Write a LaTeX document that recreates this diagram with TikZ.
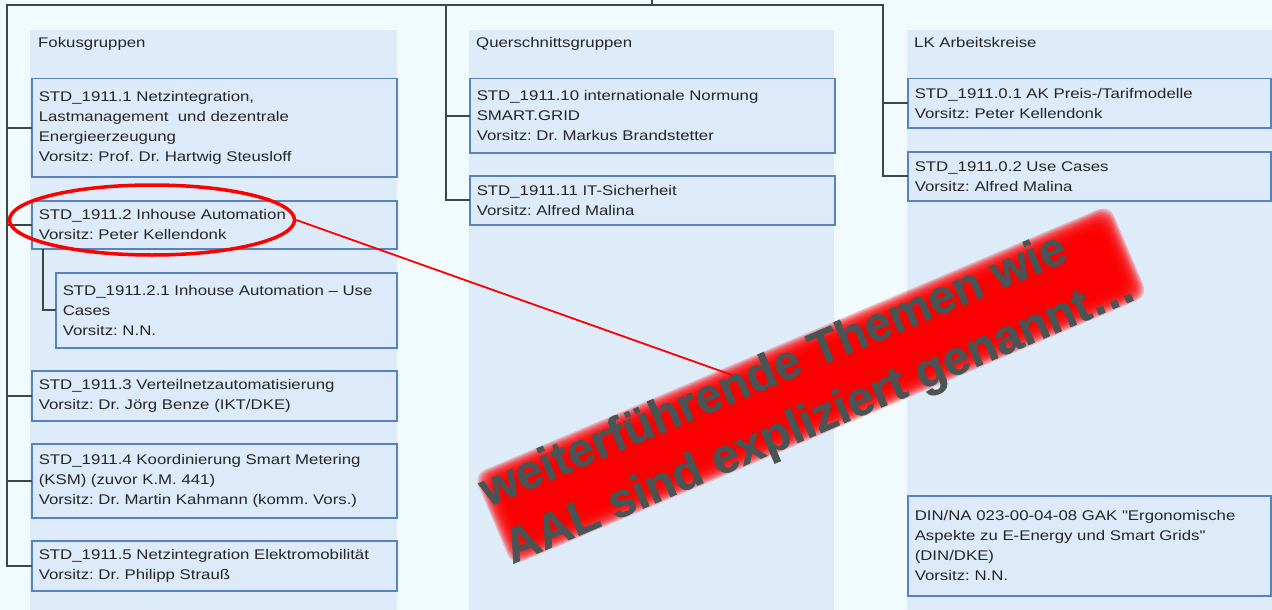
\documentclass[tikz,border=0pt]{standalone}
\usepackage{fontspec}
\setmainfont{Liberation Sans}
\newfontfamily\boxfont[FakeStretch=1.2]{Liberation Sans}
\newfontfamily\bannerfont[FakeBold=1.2]{Liberation Sans Bold}
\usetikzlibrary{shapes.geometric}
\frenchspacing

\definecolor{pagebg}{HTML}{F1FAFD}
\definecolor{colbg}{HTML}{DEEBF9}
\definecolor{boxbg}{HTML}{DCEAFA}
\definecolor{boxline}{HTML}{5783C0}
\definecolor{treeline}{HTML}{3E4646}
\definecolor{txt}{HTML}{262626}
\definecolor{bannertxt}{HTML}{4A5454}
\definecolor{hired}{HTML}{FF0000}

\tikzset{
  groupbox/.style={rectangle, draw=boxline, line width=1.5pt, fill=boxbg,
    inner xsep=7pt, inner ysep=0pt, align=left, anchor=north west,
    font=\boxfont\fontsize{14}{20}\selectfont, text=txt},
  heading/.style={inner sep=0pt, anchor=base west,
    font=\boxfont\fontsize{14}{20}\selectfont, text=txt},
  tree/.style={draw=treeline, line width=1.6pt, line cap=rect},
  bannertext/.style={inner sep=0pt, anchor=base west, transform shape,
    font=\bannerfont\fontsize{48}{58}\selectfont, text=bannertxt},
}

\begin{document}
\begin{tikzpicture}[x=1pt,y=-1pt]
  % page and the three column panels
  \fill[pagebg] (0,0) rectangle (1272,610);
  \useasboundingbox (0,0) rectangle (1272,610);
  \fill[colbg] (30,30) rectangle (397,610);
  \fill[colbg] (469,30) rectangle (834,610);
  \fill[colbg] (907,30) rectangle (1272,610);

  % column headings
  \node[heading] (hF) at (38,48) {Fokusgruppen};
  \node[heading] (hQ) at (476,48) {Querschnittsgruppen};
  \node[heading] (hL) at (914,48) {LK Arbeitskreise};

  % Fokusgruppen
  \node[groupbox, text width=351pt, minimum height=98pt] (f1) at (31,78)
    {STD\_1911.1 Netzintegration,\\Lastmanagement\ \ und dezentrale\\Energieerzeugung\\Vorsitz: Prof. Dr. Hartwig Steusloff};
  \node[groupbox, text width=351pt, minimum height=48pt] (f2) at (31,200)
    {STD\_1911.2 Inhouse Automation\\Vorsitz: Peter Kellendonk};
  \node[groupbox, text width=327pt, minimum height=75pt] (f21) at (55,272)
    {STD\_1911.2.1 Inhouse Automation – Use\\Cases\\Vorsitz: N.N.};
  \node[groupbox, text width=351pt, minimum height=50pt] (f3) at (31,370)
    {STD\_1911.3 Verteilnetzautomatisierung\\Vorsitz: Dr. Jörg Benze (IKT/DKE)};
  \node[groupbox, text width=351pt, minimum height=74pt] (f4) at (31,443)
    {STD\_1911.4 Koordinierung Smart Metering\\(KSM) (zuvor K.M. 441)\\Vorsitz: Dr. Martin Kahmann (komm. Vors.)};
  \node[groupbox, text width=351pt, minimum height=50pt] (f5) at (31,540)
    {STD\_1911.5 Netzintegration Elektromobilität\\Vorsitz: Dr. Philipp Strauß};

  % Querschnittsgruppen
  \node[groupbox, text width=351pt, minimum height=74pt] (q1) at (469,78)
    {STD\_1911.10 internationale Normung\\SMART.GRID\\Vorsitz: Dr. Markus Brandstetter};
  \node[groupbox, text width=351pt, minimum height=49pt] (q2) at (469,175)
    {STD\_1911.11 IT-Sicherheit\\Vorsitz: Alfred Malina};

  % LK Arbeitskreise
  \node[groupbox, text width=349pt, minimum height=49pt] (l1) at (907,78)
    {STD\_1911.0.1 AK Preis-/Tarifmodelle\\Vorsitz: Peter Kellendonk};
  \node[groupbox, text width=349pt, minimum height=49pt] (l2) at (907,151)
    {STD\_1911.0.2 Use Cases\\Vorsitz: Alfred Malina};
  \node[groupbox, text width=349pt, minimum height=100pt] (din) at (907,495)
    {DIN/NA 023-00-04-08 GAK "Ergonomische\\Aspekte zu E-Energy und Smart Grids"\\(DIN/DKE)\\Vorsitz: N.N.};

  % organisation tree
  \coordinate (root) at (652,0);
  \coordinate (busL) at (7,5);
  \coordinate (busM) at (446,5);
  \coordinate (busR) at (883,5);
  \coordinate (f2stub) at ([xshift=12pt]f2.south west);
  \draw[tree] (busL) -- (busR);
  \draw[tree] (root) -- (root |- busL);
  \foreach \b in {f1,f2,f3,f4,f5} \draw[tree] (busL) |- (\b.west);
  \foreach \b in {q1,q2} \draw[tree] (busM) |- (\b.west);
  \foreach \b in {l1,l2} \draw[tree] (busR) |- (\b.west);
  \draw[tree] (f2stub) |- (f21.west);

  % highlight and callout line
  \node[ellipse, draw=hired, line width=3.5pt, minimum width=285pt,
        minimum height=70pt, inner sep=0pt] (hl) at (152,220) {};
  \coordinate (callout) at (760,385);
  \draw[hired, line width=1.8pt] (hl.east) -- (callout);

  % soft-edged red banner with its note
  \begin{scope}[shift={(488,507)}, rotate=23]
    \foreach \k in {0,...,17} {
      \pgfmathsetmacro\o{10-1.25*\k}
      \fill[hired, opacity=0.22, rounded corners=12pt]
        (9.5-\o,-25.5-\o) rectangle (680+\o,53.5+\o);
    }
    \node[bannertext] (b1) at (0,0) {weiterführende Themen wie};
    \node[bannertext] (b2) at (0,62) {AAL sind expliziert genannt…};
  \end{scope}
\end{tikzpicture}
\end{document}
